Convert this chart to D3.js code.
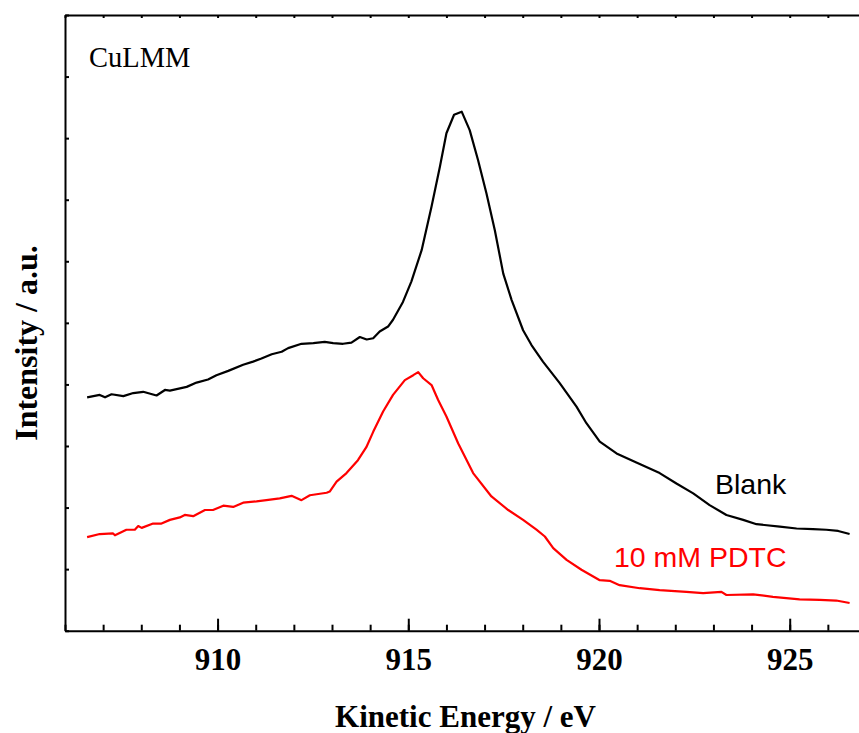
<!DOCTYPE html>
<html>
<head>
<meta charset="utf-8">
<script src="https://cdn.jsdelivr.net/npm/d3@7"></script>
<style>
  html, body { margin: 0; padding: 0; background: #fff; overflow: hidden; }
  .axis path, .axis line { stroke: #000; stroke-width: 2; }
  .axis text { font-family: "Liberation Serif", "Times New Roman", serif; font-weight: bold; font-size: 31px; fill: #000; }
</style>
</head>
<body>
<svg id="chart" width="859" height="733"></svg>
<script>
// Cu LMM Auger spectra
const blankEnergy = [906.58, 906.91, 907.05, 907.22, 907.53, 907.79, 908.05, 908.40, 908.62, 908.75,
  909.19, 909.45, 909.75, 909.97, 910.28, 910.67, 910.93, 911.15, 911.42, 911.68,
  911.85, 912.20, 912.51, 912.81, 913.03, 913.29, 913.51, 913.73, 913.91, 914.08,
  914.25, 914.47, 914.60, 914.86, 915.08, 915.35, 915.61, 915.83, 916.00, 916.20,
  916.40, 916.61, 916.83, 917.05, 917.27, 917.49, 917.71, 918.01, 918.23, 918.53,
  918.97, 919.41, 919.67, 920.02, 920.46, 920.98, 921.59, 922.03, 922.47, 922.90,
  923.34, 923.78, 924.13, 924.74, 925.18, 925.61, 925.96, 926.27, 926.57];
const blankIntensity = [3.79, 3.83, 3.79, 3.84, 3.81, 3.86, 3.88, 3.82, 3.91, 3.90,
  3.96, 4.03, 4.08, 4.15, 4.22, 4.32, 4.37, 4.42, 4.49, 4.53,
  4.59, 4.66, 4.67, 4.69, 4.67, 4.66, 4.68, 4.77, 4.73, 4.75,
  4.86, 4.94, 5.05, 5.34, 5.67, 6.18, 6.89, 7.54, 8.08, 8.38,
  8.43, 8.13, 7.64, 7.10, 6.50, 5.80, 5.37, 4.88, 4.64, 4.37,
  4.02, 3.64, 3.37, 3.07, 2.88, 2.73, 2.56, 2.39, 2.23, 2.04,
  1.88, 1.80, 1.73, 1.69, 1.66, 1.65, 1.64, 1.62, 1.57];

const pdtcEnergy = [906.58, 906.91, 907.26, 907.31, 907.61, 907.83, 907.92, 908.01, 908.31, 908.53,
  908.75, 909.01, 909.14, 909.36, 909.67, 909.88, 910.15, 910.41, 910.67, 911.02,
  911.28, 911.63, 911.94, 912.20, 912.42, 912.86, 912.94, 913.12, 913.38, 913.68,
  913.90, 914.08, 914.34, 914.60, 914.91, 915.13, 915.26, 915.39, 915.61, 915.78,
  916.00, 916.31, 916.70, 917.18, 917.62, 918.01, 918.36, 918.58, 918.80, 919.15,
  919.54, 920.02, 920.28, 920.54, 921.07, 921.59, 922.29, 922.73, 923.21, 923.34,
  924.04, 924.56, 925.26, 925.79, 926.22, 926.57];
const pdtcIntensity = [1.52, 1.57, 1.58, 1.55, 1.64, 1.64, 1.70, 1.67, 1.74, 1.74,
  1.80, 1.84, 1.88, 1.86, 1.96, 1.96, 2.03, 2.01, 2.08, 2.10,
  2.12, 2.15, 2.19, 2.12, 2.20, 2.24, 2.26, 2.42, 2.56, 2.77,
  2.98, 3.23, 3.56, 3.83, 4.07, 4.15, 4.20, 4.10, 3.99, 3.75,
  3.48, 3.04, 2.56, 2.18, 1.96, 1.80, 1.64, 1.53, 1.34, 1.15,
  0.99, 0.82, 0.81, 0.74, 0.69, 0.66, 0.63, 0.61, 0.63, 0.58,
  0.59, 0.55, 0.51, 0.50, 0.49, 0.45];

const majorTicks = [910, 915, 920, 925];
const minorTicks = d3.range(906, 928, 1);
const yTicks = d3.range(0, 11, 1);

// region size
const plotLeft = 65, plotTop = 15, plotRight = 866, plotBottom = 630.7;
// endregion

const svg = d3.select('#chart');

const x = d3.scaleLinear().domain([906, 927]).range([plotLeft, plotRight]);
const y = d3.scaleLinear().domain([0, 10]).range([plotBottom, plotTop]);

// bottom axis: minor ticks, then major ticks with labels
svg.append('g')
  .attr('class', 'axis')
  .attr('transform', 'translate(0,' + plotBottom + ')')
  .call(d3.axisBottom(x).tickValues(minorTicks).tickSizeInner(-6).tickSizeOuter(0).tickFormat(''));

svg.append('g')
  .attr('class', 'axis')
  .attr('transform', 'translate(0,' + plotBottom + ')')
  .call(d3.axisBottom(x).tickValues(majorTicks).tickSizeInner(-12).tickSizeOuter(0)
    .tickPadding(17).tickFormat(d3.format('d')))
  .call(g => g.select('.domain').remove());

// top axis
svg.append('g')
  .attr('class', 'axis')
  .attr('transform', 'translate(0,' + plotTop + ')')
  .call(d3.axisTop(x).tickValues(minorTicks).tickSizeInner(-3).tickSizeOuter(0).tickFormat(''));

// left axis, no labels
svg.append('g')
  .attr('class', 'axis')
  .attr('transform', 'translate(' + plotLeft + ',0)')
  .call(d3.axisLeft(y).tickValues(yTicks).tickSizeInner(-4).tickSizeOuter(0).tickFormat(''));

const line = d3.line()
  .x(d => x(d[0]))
  .y(d => y(d[1]));

svg.append('path')
  .datum(d3.zip(blankEnergy, blankIntensity))
  .attr('fill', 'none')
  .attr('stroke', '#000')
  .attr('stroke-width', 2.2)
  .attr('stroke-linejoin', 'round')
  .attr('d', line);

svg.append('path')
  .datum(d3.zip(pdtcEnergy, pdtcIntensity))
  .attr('fill', 'none')
  .attr('stroke', '#ff0000')
  .attr('stroke-width', 2.2)
  .attr('stroke-linejoin', 'round')
  .attr('d', line);

// labels
svg.append('text')
  .attr('x', 89).attr('y', 66.5)
  .style('font-family', '"Liberation Serif", "Times New Roman", serif')
  .style('font-size', '28.5px')
  .text('CuLMM');

svg.append('text')
  .attr('x', 715).attr('y', 493.5)
  .style('font-family', '"Liberation Sans", Arial, sans-serif')
  .style('font-size', '28.5px')
  .text('Blank');

svg.append('text')
  .attr('x', 614).attr('y', 566.5)
  .style('font-family', '"Liberation Sans", Arial, sans-serif')
  .style('font-size', '28.5px')
  .attr('fill', '#ff0000')
  .text('10 mM PDTC');

svg.append('text')
  .attr('x', (plotLeft + plotRight) / 2).attr('y', 727)
  .attr('text-anchor', 'middle')
  .style('font-family', '"Liberation Serif", "Times New Roman", serif')
  .style('font-weight', 'bold')
  .style('font-size', '31px')
  .text('Kinetic Energy / eV');

svg.append('text')
  .attr('transform', 'translate(36.5,343) rotate(-90)')
  .attr('text-anchor', 'middle')
  .style('font-family', '"Liberation Serif", "Times New Roman", serif')
  .style('font-weight', 'bold')
  .style('font-size', '32px')
  .text('Intensity / a.u.');
</script>
</body>
</html>
